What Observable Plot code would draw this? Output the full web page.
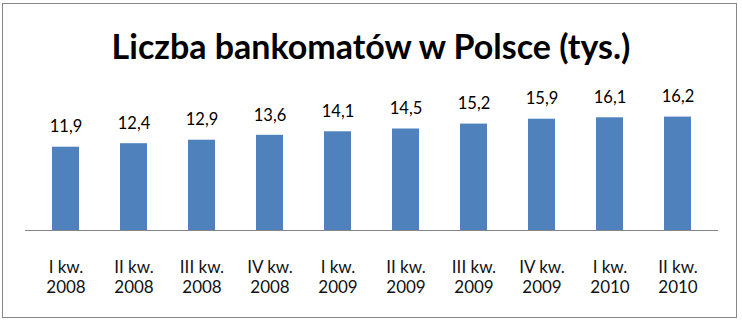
<!DOCTYPE html>
<html>
<head>
<meta charset="utf-8">
<script src="https://cdn.jsdelivr.net/npm/d3@7"></script>
<script src="https://cdn.jsdelivr.net/npm/@observablehq/plot@0.6"></script>
<style>
  html, body { margin: 0; padding: 0; background: #fff; }
  #wrap { position: relative; width: 742px; height: 323px; overflow: hidden; font-family: Lato, "Open Sans", sans-serif; }
  #frame { position: absolute; left: 2px; top: 3px; width: 735px; height: 315px; border: 1.5px solid #878787; box-sizing: border-box; pointer-events: none; }
  #title { position: absolute; left: 0; top: 24px; width: 742px; text-align: center; font-weight: bold; font-size: 34px; color: #000; line-height: 44px; }
  #chart { position: absolute; left: 0; top: 80px; }
</style>
</head>
<body>
<div id="wrap">
  <div id="title">Liczba bankomatów w Polsce (tys.)</div>
  <div id="chart"></div>
  <div id="frame"></div>
</div>
<script>
const quarters = ["I kw.", "II kw.", "III kw.", "IV kw.", "I kw.", "II kw.", "III kw.", "IV kw.", "I kw.", "II kw."];
const years = ["2008", "2008", "2008", "2008", "2009", "2009", "2009", "2009", "2010", "2010"];
const values = [11.9, 12.4, 12.9, 13.6, 14.1, 14.5, 15.2, 15.9, 16.1, 16.2];

const categories = quarters.map((q, i) => q + " " + years[i]);
const data = categories.map((c, i) => ({cat: c, value: values[i], q: quarters[i], yr: years[i]}));
const fmt = v => v.toFixed(1).replace(".", ",");

const chart = Plot.plot({
  width: 742,
  height: 243,
  marginLeft: 25,
  marginRight: 24,
  marginTop: 10,
  marginBottom: 93,
  style: {fontFamily: "Lato, 'Open Sans', sans-serif", fontSize: "16.5px", color: "#000", background: "transparent"},
  x: {domain: categories, paddingInner: 0.61, paddingOuter: 0.334, axis: null},
  y: {domain: [0, 20], axis: null},
  marks: [
    Plot.barY(data, {x: "cat", y: "value", fill: "#4F81BD"}),
    Plot.ruleY([0], {stroke: "#868686", strokeWidth: 1}),
    Plot.text(data, {x: "cat", y: "value", text: d => fmt(d.value), dy: -20, fontSize: 16.5, fill: "#000"}),
    Plot.text(data, {x: "cat", frameAnchor: "bottom", text: "q", dy: 42, fontSize: 17, fill: "#111"}),
    Plot.text(data, {x: "cat", frameAnchor: "bottom", text: "yr", dy: 62, fontSize: 17, fill: "#111"})
  ]
});
document.getElementById("chart").appendChild(chart);
</script>
</body>
</html>
